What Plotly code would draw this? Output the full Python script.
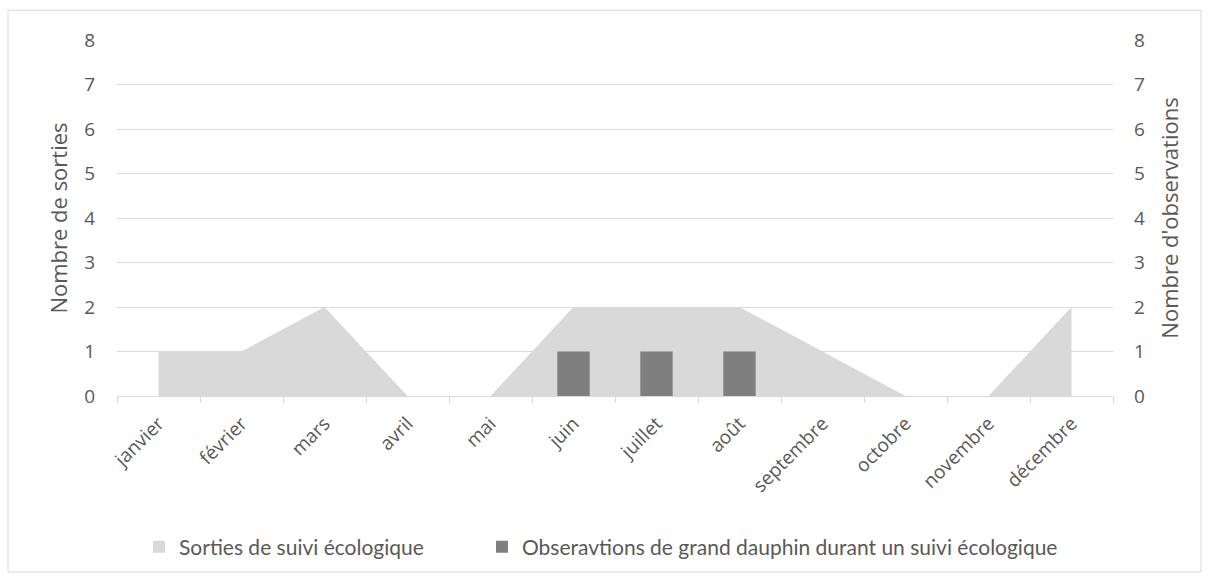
import plotly.graph_objects as go

mois = ["janvier", "février", "mars", "avril", "mai", "juin", "juillet", "août",
        "septembre", "octobre", "novembre", "décembre"]
sorties = [1, 1, 2, 0, 0, 2, 2, 2, 1, 0, 0, 2]
observations = [None, None, None, None, None, 1, 1, 1, None, None, None, None]
y_ticks = [0, 1, 2, 3, 4, 5, 6, 7, 8]

name_sorties = "Sorties de suivi écologique"
name_obs = "Obseravtions de grand dauphin durant un suivi écologique"

GREY_TXT = "#595959"
TICKF = dict(family="Open Sans", size=19, color=GREY_TXT)
TITLEF = dict(family="Open Sans", size=22, color=GREY_TXT)
LEGF = dict(family="Lato", size=21, color=GREY_TXT)

fig = go.Figure()
fig.add_trace(go.Scatter(
    x=mois, y=sorties, name=name_sorties, showlegend=False,
    mode="lines", line=dict(width=0, color="#d9d9d9"),
    fill="tozeroy", fillcolor="#d9d9d9", yaxis="y", hoverinfo="skip"))
# legend entry (square symbol) for the area series
fig.add_trace(go.Bar(
    x=mois, y=[None] * len(mois), name=name_sorties, legend="legend",
    marker=dict(color="#d9d9d9", line=dict(width=0)), yaxis="y"))
fig.add_trace(go.Bar(
    x=mois, y=observations, name=name_obs, legend="legend2",
    marker=dict(color="#7f7f7f", line=dict(width=0)), width=0.39, yaxis="y2"))

W, H = 1210, 580
L, R, T, B = 117, 1113, 40, 398
pw, ph = R - L, B - T
def px(x):
    return (x - L) / pw
def py(y):
    return (B - y) / ph

legend_common = dict(orientation="h", yanchor="middle", y=py(550), xanchor="left",
                     font=LEGF, bgcolor="rgba(0,0,0,0)")

fig.update_layout(
    width=W, height=H,
    margin=dict(l=L, r=W - R, t=T, b=H - B),
    paper_bgcolor="white", plot_bgcolor="white",
    showlegend=True,
    legend=dict(x=px(139), **legend_common),
    legend2=dict(x=px(482), **legend_common),
    barmode="overlay",
    xaxis=dict(type="category", categoryorder="array", categoryarray=mois,
               range=[-0.5, 11.5], showgrid=False, showline=True, linecolor="#d9d9d9",
               linewidth=1, ticks="outside", tickson="boundaries", ticklen=6,
               tickcolor="#d9d9d9", tickangle=-45, tickfont=TICKF, fixedrange=True,
               ticklabelstandoff=8),
    yaxis=dict(range=[0, 8], tickvals=y_ticks, showgrid=True, gridcolor="#d9d9d9",
               gridwidth=1, zeroline=False, showline=False, ticks="",
               ticklabelstandoff=21, tickfont=TICKF,
               title=dict(text="Nombre de sorties", font=TITLEF, standoff=10)),
    yaxis2=dict(range=[0, 8], tickvals=y_ticks, overlaying="y", side="right",
                showgrid=False, zeroline=False, showline=False, ticks="",
                ticklabelstandoff=20, tickfont=TICKF,
                title=dict(text="Nombre d'observations", font=TITLEF, standoff=18)),
    shapes=[dict(type="rect", xref="paper", yref="paper",
                 x0=px(8), x1=px(1201), y0=py(575), y1=py(10),
                 line=dict(color="#d9d9d9", width=1), fillcolor="rgba(0,0,0,0)", layer="below")],
)

fig.write_html("out.html", config={"displayModeBar": False},
               post_script="document.body.style.margin='0';document.body.style.padding='0';")
